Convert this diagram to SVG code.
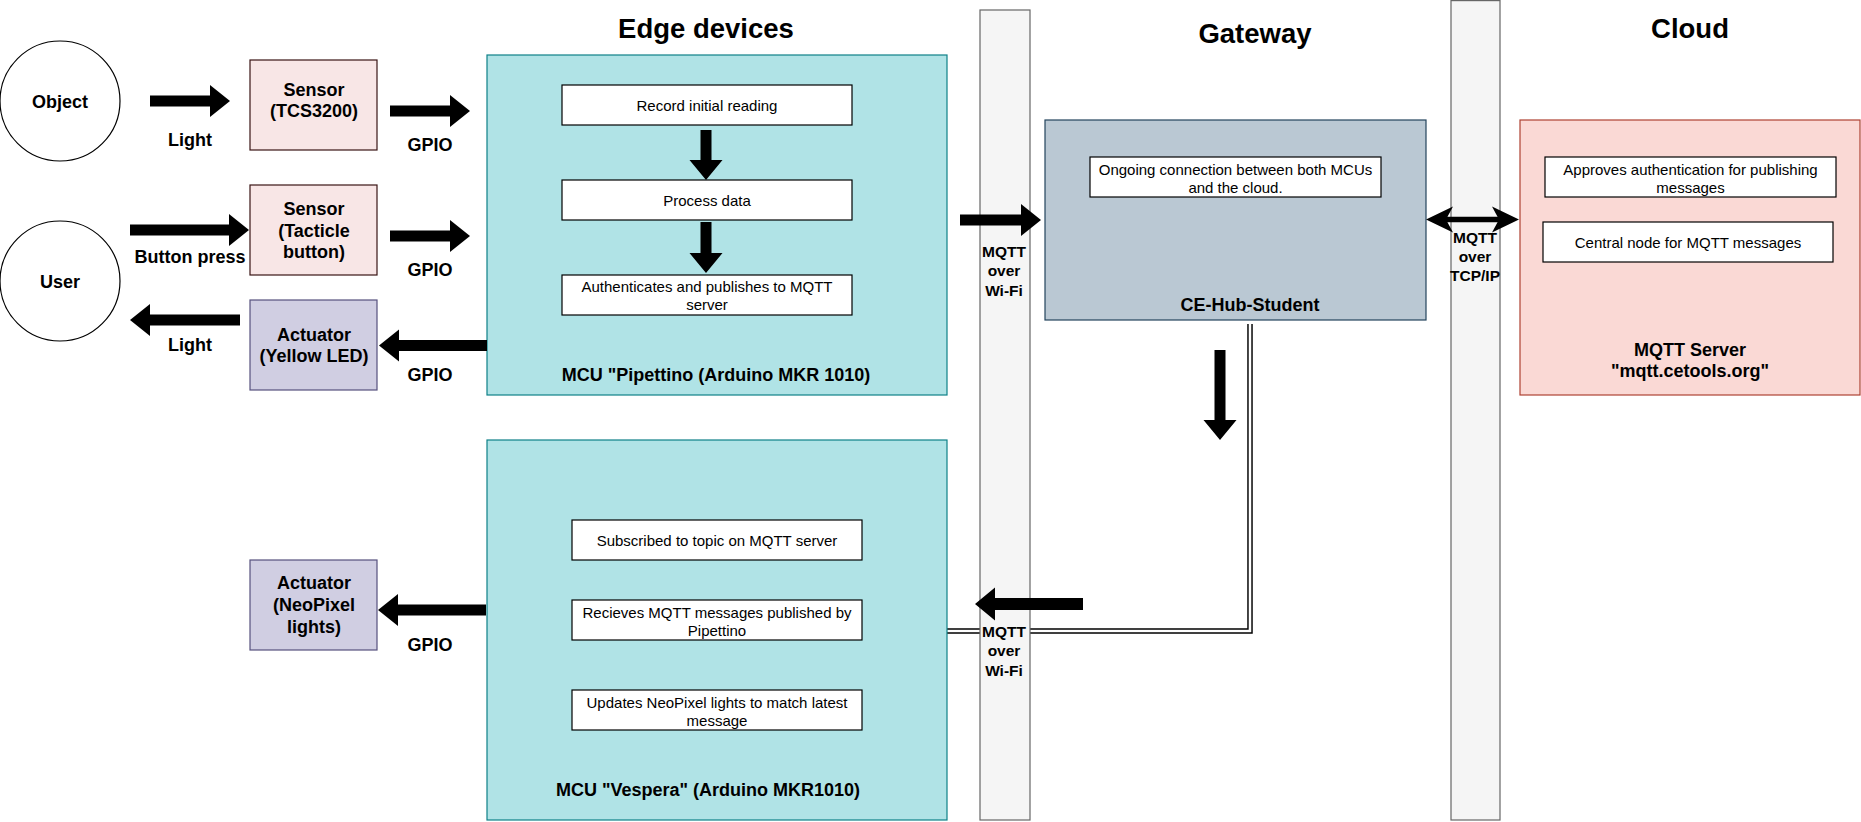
<svg xmlns="http://www.w3.org/2000/svg" width="1861" height="822" viewBox="0 0 1861 822">
<style>
text{font-family:"Liberation Sans",Arial,Helvetica,sans-serif;fill:#000;text-anchor:middle}
.b{font-weight:bold;font-size:18px}
.t{font-weight:bold;font-size:27.5px}
.r{font-size:15px}
.m{font-weight:bold;font-size:15.5px}
.inner{fill:#fff;stroke:#000;stroke-width:1.2}
.sensor{fill:#f8e6e6;stroke:#3a1414;stroke-width:1.2}
.act{fill:#d0cee2;stroke:#56517e;stroke-width:1.2}
.mcu{fill:#b0e3e6;stroke:#0e8088;stroke-width:1.2}
.gw{fill:#bac8d3;stroke:#23445d;stroke-width:1.2}
.cloud{fill:#fad9d5;stroke:#ae4132;stroke-width:1.2}
.bar{fill:#f5f5f5;stroke:#666;stroke-width:1.2}
.circ{fill:#fff;stroke:#000;stroke-width:1.2}
.ba{fill:#000;stroke:none}
</style>
<rect width="1861" height="822" fill="#fff"/>

<g id="titles">
<text class="t" x="706" y="38">Edge devices</text>
<text class="t" x="1255" y="43">Gateway</text>
<text class="t" x="1690" y="38">Cloud</text>
</g>

<g id="link-gateway-vespera">
<path d="M1250,324 V631 H947" fill="none" stroke="#000" stroke-width="5.5"/>
<path d="M1250,324 V631 H947" fill="none" stroke="#fff" stroke-width="2.6"/>
</g>

<g id="bar-wifi">
<rect class="bar" x="980" y="10" width="50" height="810"/>
</g>
<g id="bar-tcp">
<rect class="bar" x="1451" y="0.6" width="49" height="819.4"/>
</g>

<g id="object"><circle class="circ" cx="60" cy="101" r="60"/><text class="b" x="60" y="108">Object</text></g>
<g id="user"><circle class="circ" cx="60" cy="281" r="60"/><text class="b" x="60" y="288">User</text></g>

<g id="sensor-tcs"><rect class="sensor" x="250" y="60" width="127" height="90"/><text class="b" x="314" y="96">Sensor</text><text class="b" x="314" y="117">(TCS3200)</text></g>
<g id="sensor-button"><rect class="sensor" x="250" y="185" width="127" height="90"/><text class="b" x="314" y="215">Sensor</text><text class="b" x="314" y="237">(Tacticle</text><text class="b" x="314" y="258">button)</text></g>
<g id="actuator-led"><rect class="act" x="250" y="300" width="127" height="90"/><text class="b" x="314" y="341">Actuator</text><text class="b" x="314" y="362">(Yellow LED)</text></g>
<g id="actuator-neopixel"><rect class="act" x="250" y="560" width="127" height="90"/><text class="b" x="314" y="589">Actuator</text><text class="b" x="314" y="611">(NeoPixel</text><text class="b" x="314" y="633">lights)</text></g>

<g id="mcu-pipettino">
<rect class="mcu" x="487" y="55" width="460" height="340"/>
<rect class="inner" x="562" y="85" width="290" height="40"/><text class="r" x="707" y="110.5">Record initial reading</text>
<rect class="inner" x="562" y="180" width="290" height="40"/><text class="r" x="707" y="205.5">Process data</text>
<rect class="inner" x="562" y="275" width="290" height="40"/><text class="r" x="707" y="292">Authenticates and publishes to MQTT</text><text class="r" x="707" y="310">server</text>
<text class="b" x="716" y="381">MCU "Pipettino (Arduino MKR 1010)</text>
</g>

<g id="mcu-vespera">
<rect class="mcu" x="487" y="440" width="460" height="380"/>
<rect class="inner" x="572" y="520" width="290" height="40"/><text class="r" x="717" y="545.5">Subscribed to topic on MQTT server</text>
<rect class="inner" x="572" y="600" width="290" height="40"/><text class="r" x="717" y="617.5">Recieves MQTT messages published by</text><text class="r" x="717" y="635.5">Pipettino</text>
<rect class="inner" x="572" y="690" width="290" height="40"/><text class="r" x="717" y="707.5">Updates NeoPixel lights to match latest</text><text class="r" x="717" y="725.5">message</text>
<text class="b" x="708" y="796">MCU "Vespera" (Arduino MKR1010)</text>
</g>

<g id="gateway">
<rect class="gw" x="1045" y="120" width="381" height="200"/>
<rect class="inner" x="1090" y="157" width="291" height="40"/><text class="r" x="1235.5" y="174.5">Ongoing connection between both MCUs</text><text class="r" x="1235.5" y="192.5">and the cloud.</text>
<text class="b" x="1250" y="311">CE-Hub-Student</text>
</g>

<g id="cloud">
<rect class="cloud" x="1520" y="120" width="340" height="275"/>
<rect class="inner" x="1545" y="157" width="291" height="40"/><text class="r" x="1690.5" y="174.5">Approves authentication for publishing</text><text class="r" x="1690.5" y="192.5">messages</text>
<rect class="inner" x="1543" y="222" width="290" height="40"/><text class="r" x="1688" y="247.5">Central node for MQTT messages</text>
<text class="b" x="1690" y="356">MQTT Server</text>
<text class="b" x="1690" y="377">"mqtt.cetools.org"</text>
</g>

<g id="connectors">
<polygon class="ba" points="150,95.5 210,95.5 210,85 230,101 210,117 210,106.5 150,106.5"/>
<polygon class="ba" points="390,105.5 450,105.5 450,95 470,111 450,127 450,116.5 390,116.5"/>
<polygon class="ba" points="130,224.5 229,224.5 229,214 249,230 229,246 229,235.5 130,235.5"/>
<polygon class="ba" points="390,230.5 450,230.5 450,220 470,236 450,252 450,241.5 390,241.5"/>
<polygon class="ba" points="240,314.5 150,314.5 150,304 130,320 150,336 150,325.5 240,325.5"/>
<polygon class="ba" points="487,340 399,340 399,329.5 379,345.5 399,361.5 399,351 487,351"/>
<polygon class="ba" points="960,214.5 1021,214.5 1021,204 1041,220 1021,236 1021,225.5 960,225.5"/>
<polygon class="ba" points="700.5,130 711.5,130 711.5,160 722.5,160 706,180 689.5,160 700.5,160"/>
<polygon class="ba" points="700.5,222 711.5,222 711.5,253 722.5,253 706,273 689.5,253 700.5,253"/>
<polygon class="ba" points="1214.5,350 1225.5,350 1225.5,420 1236.5,420 1220,440 1203.5,420 1214.5,420"/>
<polygon class="ba" points="1083,598 995,598 995,587.5 975,604 995,620.5 995,610 1083,610"/>
<polygon class="ba" points="486,604.5 398,604.5 398,594 378,610 398,626 398,615.5 486,615.5"/>
<line x1="1445" y1="219.5" x2="1500" y2="219.5" stroke="#000" stroke-width="5.5"/>
<polygon class="ba" points="1426,219.5 1453,206.5 1446,219.5 1453,232.5"/>
<polygon class="ba" points="1519,219.5 1492,206.5 1499,219.5 1492,232.5"/>
</g>

<g id="labels">
<text class="b" x="190" y="146">Light</text>
<text class="b" x="430" y="151">GPIO</text>
<text class="b" x="190" y="263">Button press</text>
<text class="b" x="430" y="276">GPIO</text>
<text class="b" x="190" y="351">Light</text>
<text class="b" x="430" y="381">GPIO</text>
<text class="b" x="430" y="651">GPIO</text>
<text class="m" x="1004" y="256.5">MQTT</text>
<text class="m" x="1004" y="276">over</text>
<text class="m" x="1004" y="295.5">Wi-Fi</text>
<text class="m" x="1004" y="636.5">MQTT</text>
<text class="m" x="1004" y="656">over</text>
<text class="m" x="1004" y="675.5">Wi-Fi</text>
<text class="m" x="1475" y="242.5">MQTT</text>
<text class="m" x="1475" y="262">over</text>
<text class="m" x="1475" y="281">TCP/IP</text>
</g>
</svg>
